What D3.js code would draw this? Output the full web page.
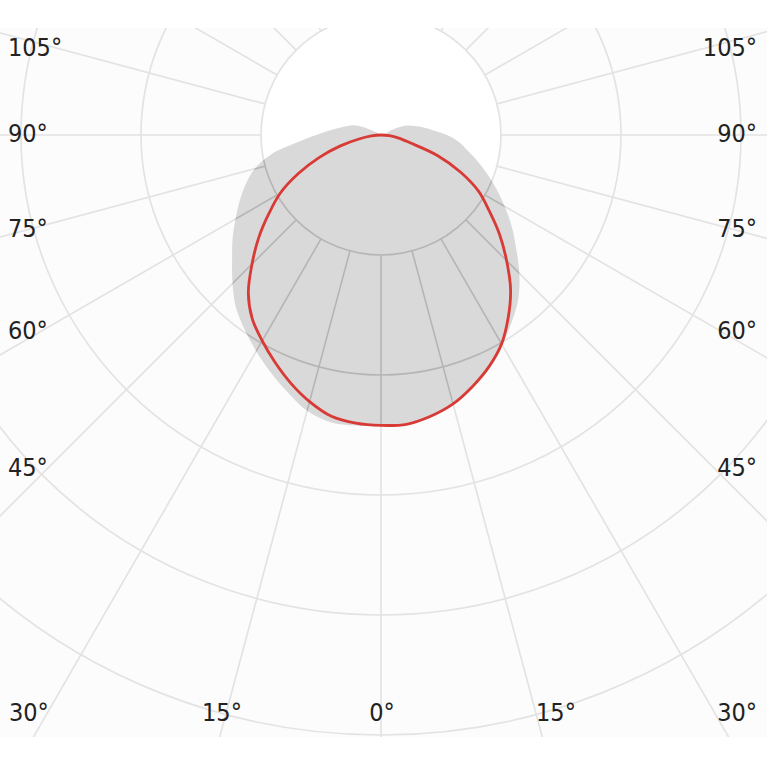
<!DOCTYPE html>
<html>
<head>
<meta charset="utf-8">
<script src="https://cdn.jsdelivr.net/npm/d3@7"></script>
<style>
  html, body { margin: 0; padding: 0; background: #ffffff; }
  svg { display: block; }
</style>
</head>
<body>
<svg id="chart" width="767" height="767"></svg>
<script>
// ---- data (luminous intensity, cd/klm) ----
const gammaAngles = d3.range(0, 185, 5);            // 0..180 deg, 0 = straight down
const ringValues = [100, 200, 300, 400, 500];
const spokeAngles = d3.range(0, 360, 15);

// C0 / C180 plane (red line): right half = C0, left half = C180
const c0Values   = [242, 242, 238, 232, 223, 213, 201, 185, 168, 148, 129, 110, 94, 73, 50, 25, 15, 7, 0,
                    0, 0, 0, 0, 0, 0, 0, 0, 0, 0, 0, 0, 0, 0, 0, 0, 0, 0];
const c180Values = [242, 241, 238, 230, 220, 209, 198, 187, 172, 152, 133, 114, 97, 76, 55, 35, 18, 8, 0,
                    0, 0, 0, 0, 0, 0, 0, 0, 0, 0, 0, 0, 0, 0, 0, 0, 0, 0];
// C90 / C270 plane (grey area): right half = C90, left half = C270
const c90Values  = [242, 241, 238, 232, 223, 213, 202, 190, 178, 163, 147, 133, 119, 106, 94, 83, 73, 65, 55,
                    44, 36, 29, 23, 12, 0, 0, 0, 0, 0, 0, 0, 0, 0, 0, 0, 0, 0];
const c270Values = [242, 243, 243, 238, 228, 218, 208, 198, 188, 175, 162, 151, 140, 130, 120, 109, 93, 70, 54,
                    43, 35, 29, 24, 15, 4, 0, 0, 0, 0, 0, 0, 0, 0, 0, 0, 0, 0];

// tick labels
const sideLabelAngles = [105, 90, 75, 60, 45];
const bottomLabelAngles = [30, 15, 0, 15, 30];

// ---- layout ----
const W = 767, H = 767;
const cx = 381, cy = 135;
const plotTop = 28, plotBottom = 737;
const sideLabelY = [47, 133, 228, 330, 467];
const bottomLabelX = [9, 222, 382, 556, 757];
const bottomLabelAnchor = ["start", "middle", "middle", "middle", "end"];
const bottomLabelY = 712;

const svg = d3.select("#chart");
const r = d3.scaleLinear().domain([0, 500]).range([0, 600]);

const defs = svg.append("defs");
defs.append("clipPath").attr("id", "plotClip")
  .append("rect").attr("x", 0).attr("y", plotTop).attr("width", W).attr("height", plotBottom - plotTop);

svg.append("rect").attr("x", 0).attr("y", plotTop).attr("width", W).attr("height", plotBottom - plotTop)
  .attr("fill", "#fcfcfc");

const g = svg.append("g").attr("clip-path", "url(#plotClip)")
  .append("g").attr("transform", `translate(${cx},${cy})`);

// inner white disc
g.append("circle").attr("r", r(ringValues[0])).attr("fill", "#ffffff");

// build a closed polar outline: right half (gamma increasing), left half (gamma decreasing)
function outline(rightVals, leftVals) {
  const pts = [];
  gammaAngles.forEach((a, i) => { if (rightVals[i] > 0) pts.push([Math.PI - a * Math.PI / 180, r(rightVals[i])]); });
  pts.push([Math.PI, 0]);
  for (let i = gammaAngles.length - 1; i > 0; i--) {
    if (leftVals[i] > 0) pts.push([Math.PI + gammaAngles[i] * Math.PI / 180, r(leftVals[i])]);
  }
  return pts;
}

const radial = d3.lineRadial()
  .angle(d => d[0]).radius(d => d[1])
  .curve(d3.curveCatmullRomClosed.alpha(0.5));

const greyPath = radial(outline(c90Values, c270Values));

// grey area (C90-C270)
g.append("path").attr("d", greyPath).attr("fill", "#d9d9d9").attr("stroke", "none");

defs.append("clipPath").attr("id", "greyClip")
  .append("path").attr("d", greyPath).attr("transform", `translate(${cx},${cy})`);

// grid
function drawGrid(parent, color) {
  parent.selectAll("circle.ring").data(ringValues).join("circle").attr("class", "ring")
    .attr("r", d => r(d)).attr("fill", "none").attr("stroke", color).attr("stroke-width", 1.7);
  parent.selectAll("line.spoke").data(spokeAngles).join("line").attr("class", "spoke")
    .attr("x1", d => r(ringValues[0]) * Math.sin(d * Math.PI / 180))
    .attr("y1", d => r(ringValues[0]) * Math.cos(d * Math.PI / 180))
    .attr("x2", d => r(1000) * Math.sin(d * Math.PI / 180))
    .attr("y2", d => r(1000) * Math.cos(d * Math.PI / 180))
    .attr("stroke", color).attr("stroke-width", 1.7);
}
drawGrid(g.append("g"), "#e3e3e3");
// darker grid where it lies over the grey area
const inner = svg.append("g").attr("clip-path", "url(#greyClip)")
  .append("g").attr("transform", `translate(${cx},${cy})`);
drawGrid(inner, "#b5b5b5");

// red line (C0-C180)
svg.append("path").attr("transform", `translate(${cx},${cy})`)
  .attr("d", radial(outline(c0Values, c180Values)))
  .attr("fill", "none").attr("stroke", "#d83a36").attr("stroke-width", 2.8)
  .attr("stroke-linejoin", "round");

// labels
const font = "'DejaVu Sans Condensed', 'DejaVu Sans', sans-serif";
const labels = svg.append("g").attr("font-family", font).attr("font-stretch", "condensed")
  .attr("font-size", 25).attr("fill", "#222");
sideLabelAngles.forEach((a, i) => {
  labels.append("text").attr("x", 8).attr("y", sideLabelY[i]).attr("dy", "0.36em")
    .attr("text-anchor", "start").text(a + "°");
  labels.append("text").attr("x", 757).attr("y", sideLabelY[i]).attr("dy", "0.36em")
    .attr("text-anchor", "end").text(a + "°");
});
bottomLabelAngles.forEach((a, i) => {
  labels.append("text").attr("x", bottomLabelX[i]).attr("y", bottomLabelY).attr("dy", "0.36em")
    .attr("text-anchor", bottomLabelAnchor[i]).text(a + "°");
});
</script>
</body>
</html>
